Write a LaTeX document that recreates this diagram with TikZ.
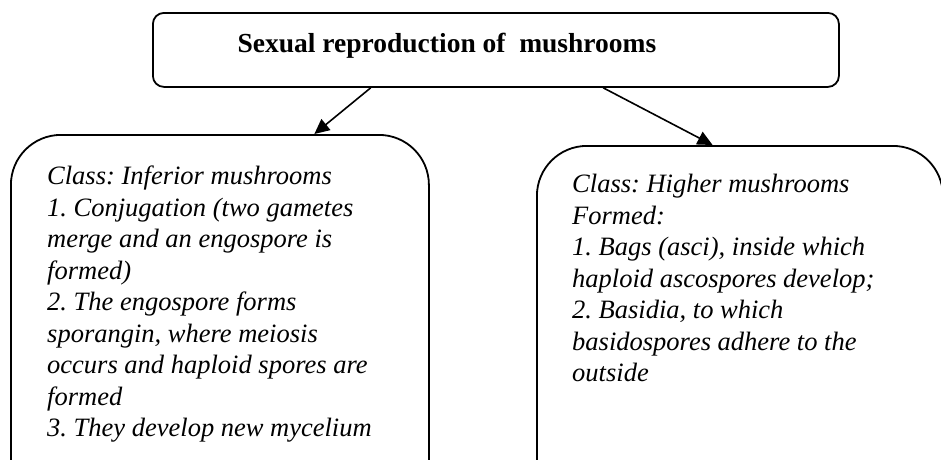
\documentclass[tikz,border=0pt]{standalone}
\usepackage{fontspec}
\setmainfont{Liberation Serif}
\usetikzlibrary{arrows.meta,calc}
\begin{document}
\frenchspacing
\begin{tikzpicture}[x=1pt,y=-1pt,
  boxline/.style={draw=black,line width=1.8pt,fill=white},
  body/.style={anchor=north west,inner sep=0pt,align=left,font=\fontsize{26.5}{31.5}\selectfont\itshape},
  conn/.style={line width=1.6pt,-{Triangle[length=15pt,width=14pt]}}]
\useasboundingbox (0,0) rectangle (941,459);
\clip (0,0) rectangle (941,459);
\node[boxline,rounded corners=11pt,minimum width=686pt,minimum height=74pt,anchor=north west] (top) at (152,12) {};
\node[anchor=base,inner sep=0pt,font=\fontsize{27.5}{30}\selectfont\bfseries] (title) at (447,52) {Sexual reproduction of\ \ mushrooms};
\node[boxline,rounded corners=50pt,minimum width=418pt,minimum height=380pt,anchor=north west] (left) at (10,134) {};
\node[boxline,rounded corners=50pt,minimum width=406pt,minimum height=370pt,anchor=north west] (right) at (536,145) {};
\node[body] (ltext) at (47,166) {Class: Inferior mushrooms\\1. Conjugation (two gametes\\merge and an engospore is\\formed)\\2. The engospore forms\\sporangin, where meiosis\\occurs and haploid spores are\\formed\\3. They develop new mycelium};
\node[body] (rtext) at (572,174) {Class: Higher mushrooms\\Formed:\\1. Bags (asci), inside which\\haploid ascospores develop;\\2. Basidia, to which\\basidospores adhere to the\\outside};
\draw[conn] ($(top.south west)!0.318!(top.south east)$) -- ($(left.north west)!0.725!(left.north east)$);
\draw[conn] ($(top.south west)!0.656!(top.south east)$) -- ($(right.north west)!0.433!(right.north east)$);
\end{tikzpicture}
\end{document}
